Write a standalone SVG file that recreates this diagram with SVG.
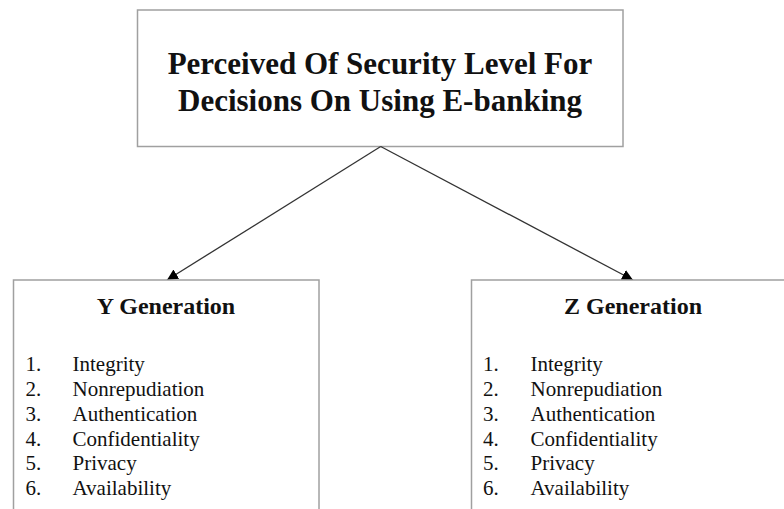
<svg xmlns="http://www.w3.org/2000/svg" width="784" height="509" viewBox="0 0 784 509">
  <style>
    .box { fill: #ffffff; stroke: #a0a0a0; stroke-width: 1.5; }
    .title { font-family: "Liberation Serif", "Times New Roman", serif; font-weight: bold; fill: #111111; }
    .item { font-family: "Liberation Serif", "Times New Roman", serif; font-size: 21px; fill: #111111; }
    .link { stroke: #333333; stroke-width: 1.3; fill: none; }
  </style>
  <defs>
    <marker id="arrow" viewBox="0 0 10 10" refX="10" refY="5" markerWidth="11" markerHeight="11" markerUnits="userSpaceOnUse" orient="auto">
      <path d="M0,0 L10,5 L0,10 Z" fill="#000000"/>
    </marker>
  </defs>
  <rect width="784" height="509" fill="#ffffff"/>

  <g id="root">
    <rect class="box" x="137.5" y="10" width="485.5" height="136.5"/>
    <text class="title" font-size="31" text-anchor="middle" x="380" y="74">Perceived Of Security Level For</text>
    <text class="title" font-size="31" text-anchor="middle" x="380" y="110.5">Decisions On Using E-banking</text>
  </g>

  <g id="connectors">
    <line class="link" x1="380.7" y1="146.5" x2="167" y2="280" marker-end="url(#arrow)"/>
    <line class="link" x1="380.7" y1="146.5" x2="633" y2="280" marker-end="url(#arrow)"/>
  </g>

  <g id="y-generation">
    <rect class="box" x="13.5" y="280" width="305.5" height="250"/>
    <text class="title" font-size="24" text-anchor="middle" x="166" y="314">Y Generation</text>
    <text class="item" x="25.5" y="370.5">1.</text><text class="item" x="72.5" y="370.5">Integrity</text>
    <text class="item" x="25.5" y="395.5">2.</text><text class="item" x="72.5" y="395.5">Nonrepudiation</text>
    <text class="item" x="25.5" y="420.5">3.</text><text class="item" x="72.5" y="420.5">Authentication</text>
    <text class="item" x="25.5" y="445.5">4.</text><text class="item" x="72.5" y="445.5">Confidentiality</text>
    <text class="item" x="25.5" y="470">5.</text><text class="item" x="72.5" y="470">Privacy</text>
    <text class="item" x="25.5" y="495">6.</text><text class="item" x="72.5" y="495">Availability</text>
  </g>

  <g id="z-generation">
    <rect class="box" x="471.5" y="280" width="330" height="250"/>
    <text class="title" font-size="24" text-anchor="middle" x="633" y="314">Z Generation</text>
    <text class="item" x="483" y="370.5">1.</text><text class="item" x="530.5" y="370.5">Integrity</text>
    <text class="item" x="483" y="395.5">2.</text><text class="item" x="530.5" y="395.5">Nonrepudiation</text>
    <text class="item" x="483" y="420.5">3.</text><text class="item" x="530.5" y="420.5">Authentication</text>
    <text class="item" x="483" y="445.5">4.</text><text class="item" x="530.5" y="445.5">Confidentiality</text>
    <text class="item" x="483" y="470">5.</text><text class="item" x="530.5" y="470">Privacy</text>
    <text class="item" x="483" y="495">6.</text><text class="item" x="530.5" y="495">Availability</text>
  </g>
</svg>
